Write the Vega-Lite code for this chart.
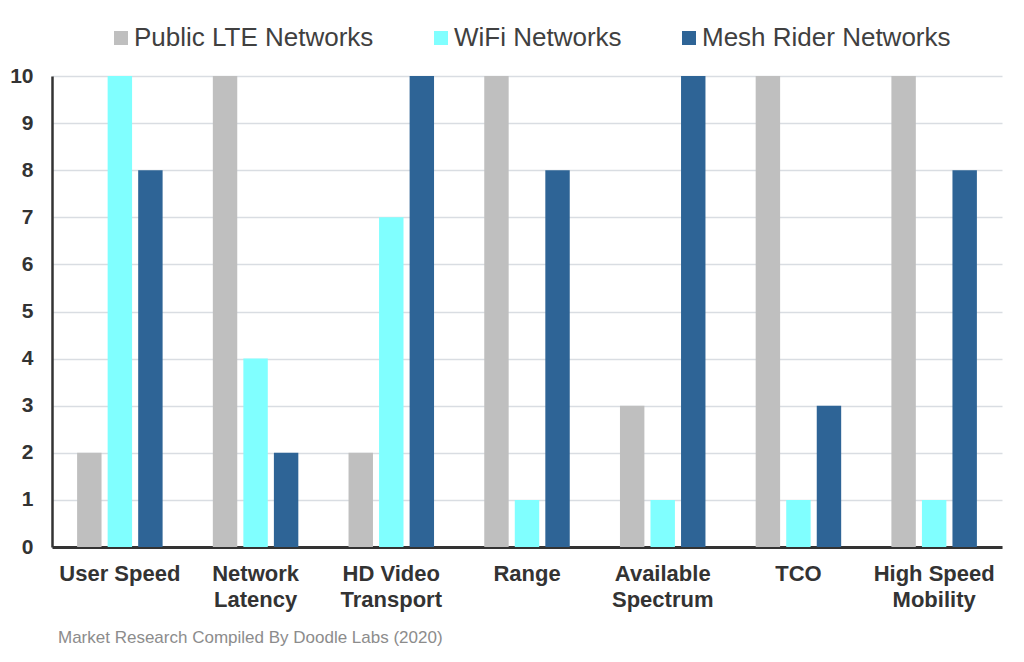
{
  "$schema": "https://vega.github.io/schema/vega-lite/v6.json",
  "description": "Network comparison scores",
  "width": 950,
  "height": 471,
  "autosize": {"type": "none"},
  "padding": {"left": 52, "top": 76, "right": 22, "bottom": 115},
  "background": "white",
  "title": {
    "text": "Market Research Compiled By Doodle Labs (2020)",
    "orient": "bottom",
    "anchor": "start",
    "frame": "group",
    "dx": 6,
    "offset": 20,
    "font": "Liberation Sans",
    "fontSize": 17,
    "fontWeight": "normal",
    "color": "#8c8c8c"
  },
  "data": {
    "values": [
      {"category": "User Speed", "network": "Public LTE Networks", "score": 2},
      {"category": "User Speed", "network": "WiFi Networks", "score": 10},
      {"category": "User Speed", "network": "Mesh Rider Networks", "score": 8},
      {"category": "Network Latency", "network": "Public LTE Networks", "score": 10},
      {"category": "Network Latency", "network": "WiFi Networks", "score": 4},
      {"category": "Network Latency", "network": "Mesh Rider Networks", "score": 2},
      {"category": "HD Video Transport", "network": "Public LTE Networks", "score": 2},
      {"category": "HD Video Transport", "network": "WiFi Networks", "score": 7},
      {"category": "HD Video Transport", "network": "Mesh Rider Networks", "score": 10},
      {"category": "Range", "network": "Public LTE Networks", "score": 10},
      {"category": "Range", "network": "WiFi Networks", "score": 1},
      {"category": "Range", "network": "Mesh Rider Networks", "score": 8},
      {"category": "Available Spectrum", "network": "Public LTE Networks", "score": 3},
      {"category": "Available Spectrum", "network": "WiFi Networks", "score": 1},
      {"category": "Available Spectrum", "network": "Mesh Rider Networks", "score": 10},
      {"category": "TCO", "network": "Public LTE Networks", "score": 10},
      {"category": "TCO", "network": "WiFi Networks", "score": 1},
      {"category": "TCO", "network": "Mesh Rider Networks", "score": 3},
      {"category": "High Speed Mobility", "network": "Public LTE Networks", "score": 10},
      {"category": "High Speed Mobility", "network": "WiFi Networks", "score": 1},
      {"category": "High Speed Mobility", "network": "Mesh Rider Networks", "score": 8}
    ]
  },
  "mark": {"type": "bar"},
  "encoding": {
    "x": {
      "field": "category",
      "type": "nominal",
      "sort": null,
      "title": null,
      "scale": {"paddingInner": 0.37, "paddingOuter": 0.185},
      "axis": {
        "labelAngle": 0,
        "labelFont": "Liberation Sans",
        "labelFontSize": 22,
        "labelFontWeight": "bold",
        "labelColor": "#333333",
        "labelPadding": 16,
        "labelLineHeight": 26,
        "labelBaseline": "top",
        "labelLimit": 300,
        "labelExpr": "datum.label == 'User Speed' || indexof(datum.label, ' ') < 0 ? datum.label : [slice(datum.label, 0, lastindexof(datum.label, ' ')), slice(datum.label, lastindexof(datum.label, ' ') + 1)]",
        "ticks": false,
        "domainColor": "#333333",
        "domainWidth": 3,
        "grid": false
      }
    },
    "xOffset": {
      "field": "network",
      "type": "nominal",
      "sort": ["Public LTE Networks", "WiFi Networks", "Mesh Rider Networks"],
      "scale": {"paddingInner": 0.2}
    },
    "y": {
      "field": "score",
      "type": "quantitative",
      "title": null,
      "scale": {"domain": [0, 10], "nice": false},
      "axis": {
        "values": [0, 1, 2, 3, 4, 5, 6, 7, 8, 9, 10],
        "labelFont": "Liberation Sans",
        "labelFontSize": 21,
        "labelFontWeight": "bold",
        "labelColor": "#333333",
        "labelPadding": 19,
        "ticks": false,
        "domainColor": "#333333",
        "domainWidth": 2.5,
        "gridColor": "#d9dde2",
        "gridWidth": 1.5
      }
    },
    "color": {
      "field": "network",
      "type": "nominal",
      "sort": ["Public LTE Networks", "WiFi Networks", "Mesh Rider Networks"],
      "scale": {
        "domain": ["Public LTE Networks", "WiFi Networks", "Mesh Rider Networks"],
        "range": ["#bfbfbf", "#80ffff", "#2e6496"]
      },
      "legend": {
        "title": null,
        "orient": "none",
        "direction": "horizontal",
        "legendX": 56,
        "legendY": -51,
        "symbolType": "square",
        "symbolSize": 196,
        "symbolStrokeWidth": 0,
        "labelFont": "Liberation Sans",
        "labelFontSize": 26,
        "labelColor": "#404040",
        "labelOffset": 0,
        "labelLimit": 400,
        "columnPadding": 54
      }
    }
  },
  "config": {
    "view": {"stroke": null}
  }
}
